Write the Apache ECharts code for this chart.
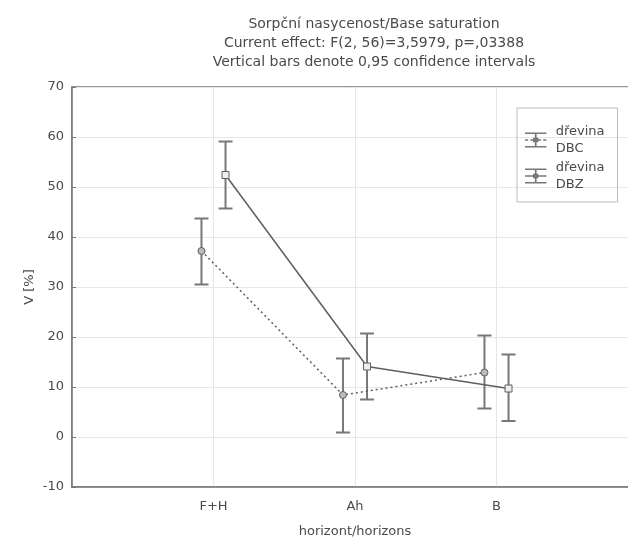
<!DOCTYPE html>
<html>
<head>
<meta charset="utf-8">
<script src="https://cdn.jsdelivr.net/npm/echarts@6/dist/echarts.min.js"></script>
<style>
  html, body { margin: 0; padding: 0; background: #fff; }
  #chart { width: 628px; height: 540px; }
</style>
</head>
<body>
<div id="chart"></div>
<script>
// horizons on the x axis (positions 1..3)
var horizons = ['F+H', 'Ah', 'B'];
var offset = 0.085; // sideways shift so the two groups don't overlap

// dřevina DBC: mean, lower, upper 95% CI
var dbcMean = [37.2, 8.4, 12.9];
var dbcLow = [30.5, 0.9, 5.7];
var dbcHigh = [43.7, 15.7, 20.3];

// dřevina DBZ
var dbzMean = [52.4, 14.1, 9.7];
var dbzLow = [45.7, 7.5, 3.2];
var dbzHigh = [59.1, 20.7, 16.5];

var gray = '#5e5e5e';
var textColor = '#4a4a4a';

function points(mean, shift) {
  return mean.map(function (v, i) { return [i + 1 + shift, v]; });
}
function bars(low, high, shift) {
  return low.map(function (v, i) { return [i + 1 + shift, v, high[i]]; });
}

function renderBar(params, api) {
  var x = api.value(0);
  var top = api.coord([x, api.value(2)]);
  var bot = api.coord([x, api.value(1)]);
  var half = 7;
  var style = { stroke: '#777', lineWidth: 2 };
  return {
    type: 'group',
    children: [
      { type: 'line', shape: { x1: top[0], y1: top[1], x2: bot[0], y2: bot[1] }, style: style },
      { type: 'line', shape: { x1: top[0] - half, y1: top[1], x2: top[0] + half, y2: top[1] }, style: style },
      { type: 'line', shape: { x1: bot[0] - half, y1: bot[1], x2: bot[0] + half, y2: bot[1] }, style: style }
    ]
  };
}

var iconDBC = 'path://M0,0h20v1.5h-20z M9.2,0h1.6v14h-1.6z M0,12.5h20v1.5h-20z M0,6.2h3v1.6h-3z M5,6.2h3v1.6h-3z M12,6.2h3v1.6h-3z M17,6.2h3v1.6h-3z M7.5,5h5v4h-5z';
var iconDBZ = 'path://M0,0h20v1.5h-20z M9.2,0h1.6v14h-1.6z M0,12.5h20v1.5h-20z M0,6.2h20v1.6h-20z M7.5,5h5v4h-5z';

var chart = echarts.init(document.getElementById('chart'));
chart.setOption({
  backgroundColor: '#fff',
  animation: false,
  textStyle: { fontFamily: 'DejaVu Sans, sans-serif' },
  title: {
    text: 'Sorpční nasycenost/Base saturation\nCurrent effect: F(2, 56)=3,5979, p=,03388\nVertical bars denote 0,95 confidence intervals',
    left: 369,
    textAlign: 'center',
    top: 10,
    textStyle: { fontSize: 14, fontWeight: 'normal', color: textColor, lineHeight: 19 }
  },
  legend: {
    orient: 'vertical',
    left: 517,
    top: 108,
    padding: [15, 13, 9, 8],
    itemGap: 2,
    itemWidth: 30,
    itemHeight: 15,
    borderColor: '#bbb',
    borderWidth: 1,
    textStyle: { fontSize: 13, color: textColor, lineHeight: 17 },
    formatter: function (name) { return name.replace(' ', '\n'); },
    data: [
      { name: 'dřevina DBC', icon: iconDBC, itemStyle: { color: '#777' } },
      { name: 'dřevina DBZ', icon: iconDBZ, itemStyle: { color: '#777' } }
    ]
  },
  grid: {
    left: 72, top: 87, bottom: 53, right: -10,
    outerBoundsMode: 'none',
    show: true, borderColor: '#777', borderWidth: 1.5
  },
  xAxis: {
    type: 'value',
    min: 0,
    max: 4,
    interval: 1,
    name: 'horizont/horizons',
    nameLocation: 'middle',
    nameGap: 38,
    nameTextStyle: { fontSize: 13, color: textColor },
    axisLine: { onZero: false, lineStyle: { color: '#777', width: 1.5 } },
    axisTick: { show: false },
    axisLabel: {
      fontSize: 13, color: textColor, margin: 13,
      formatter: function (v) { return horizons[v - 1] || ''; }
    },
    splitLine: {
      show: true,
      lineStyle: { color: '#e6e6e6' }
    }
  },
  yAxis: {
    type: 'value',
    min: -10,
    max: 70,
    interval: 10,
    name: 'V [%]',
    nameLocation: 'middle',
    nameGap: 36,
    nameMoveOverlap: false,
    nameTextStyle: { fontSize: 13, color: textColor },
    axisLine: { show: true, lineStyle: { color: '#777', width: 1.5 } },
    axisTick: { show: true, inside: true, length: 4, lineStyle: { color: '#777' } },
    axisLabel: { fontSize: 13, color: textColor, margin: 8 },
    splitLine: { lineStyle: { color: '#e6e6e6' } }
  },
  series: [
    {
      name: 'dřevina DBC', type: 'custom', renderItem: renderBar,
      data: bars(dbcLow, dbcHigh, -offset), z: 3
    },
    {
      name: 'dřevina DBZ', type: 'custom', renderItem: renderBar,
      data: bars(dbzLow, dbzHigh, offset), z: 3
    },
    {
      name: 'dřevina DBC', type: 'line', data: points(dbcMean, -offset),
      symbol: 'circle', symbolSize: 7,
      itemStyle: { color: '#bbb', borderColor: gray, borderWidth: 1 },
      lineStyle: { color: gray, width: 1.5, type: [2, 3] }, z: 4
    },
    {
      name: 'dřevina DBZ', type: 'line', data: points(dbzMean, offset),
      symbol: 'rect', symbolSize: 7,
      itemStyle: { color: '#eee', borderColor: gray, borderWidth: 1 },
      lineStyle: { color: gray, width: 1.5 }, z: 4
    }
  ]
});
</script>
</body>
</html>
